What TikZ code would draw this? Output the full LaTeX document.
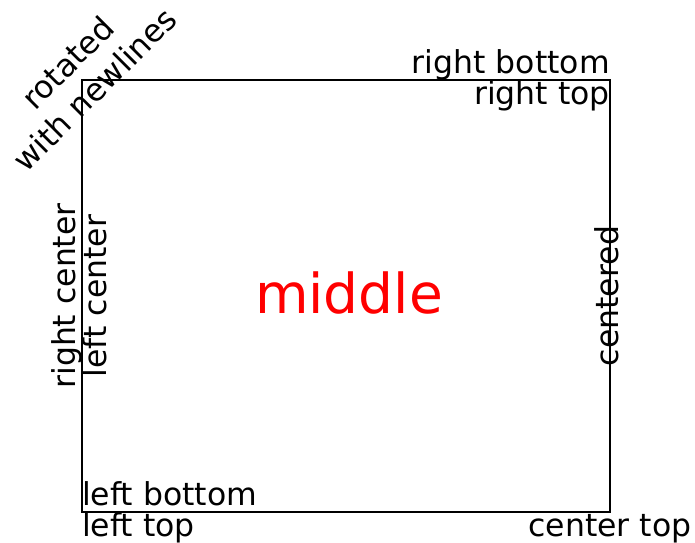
\documentclass[tikz,border=0pt]{standalone}
\usepackage{fontspec}
\setmainfont{DejaVu Sans}
\tikzset{
  lbl/.style={inner sep=0pt, font=\fontsize{31.5}{37}\selectfont, text height=24pt, text depth=6.6pt},
  frame/.style={draw=black, line width=2.5pt}
}
\begin{document}
\begin{tikzpicture}[x=1pt,y=1pt]
\useasboundingbox (0,0) rectangle (695,542);
\coordinate (BL) at (82,30);
\coordinate (TR) at (610,462);
\coordinate (BR) at (610,30);
\coordinate (TL) at (82,462);
\coordinate (LM) at (82,246);
\coordinate (RM) at (610,246);
\draw[frame] (BL) rectangle (TR);
\node[lbl, anchor=north west] (lt) at (BL) {left top};
\node[lbl, anchor=south west] (lb) at (BL) {left bottom};
\node[lbl, anchor=south east] (rb) at (TR) {right bottom};
\node[lbl, anchor=north east] (rt) at (TR) {right top};
\node[lbl, anchor=south, rotate=90] (rc) at (LM) {right center};
\node[lbl, anchor=north, rotate=90] (lc) at (LM) {left center};
\node[lbl, anchor=center, rotate=90] (ce) at (RM) {centered};
\node[lbl, anchor=north] (ct) at (BR) {center top};
\node[inner sep=0pt, font=\fontsize{31.5}{38}\selectfont, align=center, rotate=45] (rot) at (81,466) {rotated\\with newlines};
\node[inner sep=0pt, text=red, font=\fontsize{55}{66}\selectfont] (mid) at (349,249) {middle};
\end{tikzpicture}
\end{document}
